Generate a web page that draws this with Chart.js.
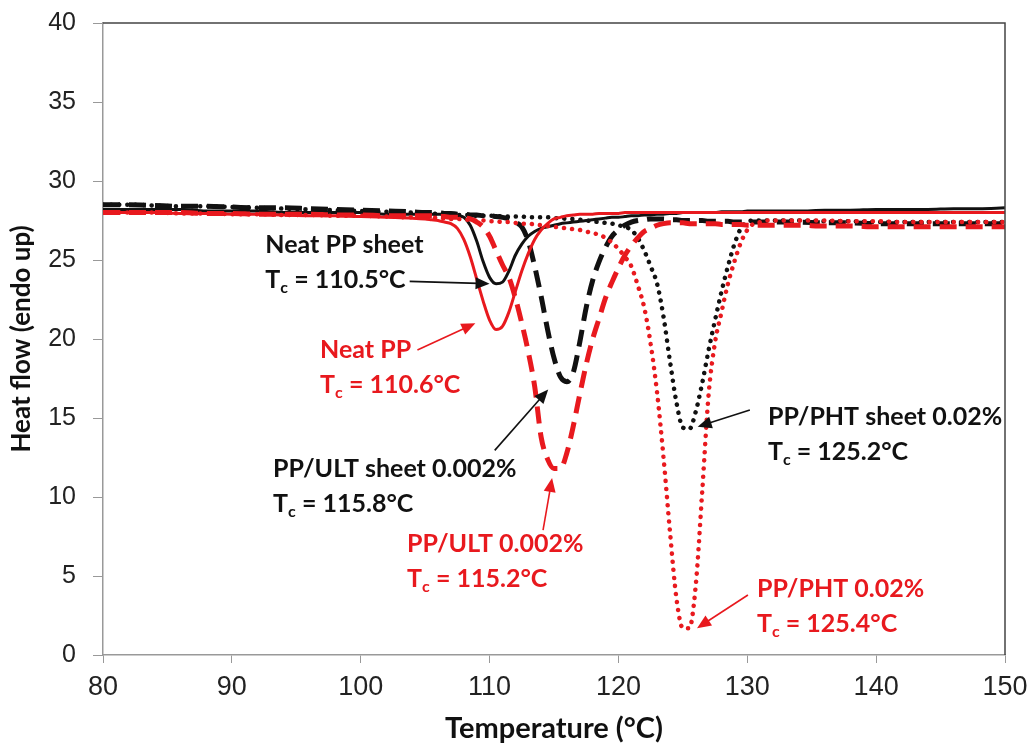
<!DOCTYPE html>
<html>
<head>
<meta charset="utf-8">
<script src="https://cdn.jsdelivr.net/npm/chart.js@4.4.0/dist/chart.umd.min.js"></script>
<style>
  html, body { margin: 0; padding: 0; background: #fff; }
  #wrap { width: 1030px; height: 747px; }
</style>
</head>
<body>
<div id="wrap"><canvas id="chart1"></canvas></div>
<script>
// temperature (°C) shared by all curves
var temps = [80,82,84,86,88,90,92,94,96,98,100,102,104,
  105,105.5,106,106.5,107,107.5,108,108.5,109,109.5,
  110,110.5,111,111.5,112,112.5,113,113.5,114,114.5,
  115,115.5,116,116.5,117,117.5,118,118.5,119,119.5,
  120,120.5,121,121.5,122,122.5,123,123.5,124,124.5,
  125,125.5,126,126.5,127,127.5,128,128.5,129,129.5,
  130,130.5,131,131.5,132,
  134,136,138,140,142,144,146,148,150];

// heat flow (endo up)
var neatPPSheet = [28.2,28.2,28.2,28.2,28.1,28.1,28.1,28.0,28.0,28.0,28.0,27.9,27.9,
  27.9,27.9,27.9,27.9,27.9,27.8,27.7,27.2,26.2,24.9,
  23.9,23.5,23.6,24.3,25.3,26.0,26.5,26.8,27.0,27.1,
  27.2,27.3,27.35,27.4,27.45,27.5,27.55,27.6,27.65,27.7,
  27.7,27.75,27.8,27.8,27.85,27.85,27.9,27.9,27.95,27.95,
  28.0,28.0,28.0,28.0,28.0,28.0,28.05,28.05,28.05,28.05,
  28.1,28.1,28.1,28.1,28.1,
  28.1,28.15,28.15,28.2,28.2,28.2,28.25,28.25,28.3];

var neatPP = [28.0,28.0,28.0,27.95,27.95,27.9,27.9,27.85,27.8,27.8,27.75,27.7,27.65,
  27.6,27.55,27.5,27.4,27.3,27.0,26.3,25.2,23.8,22.4,
  21.2,20.6,20.8,21.7,23.0,24.3,25.4,26.3,26.9,27.3,
  27.6,27.7,27.8,27.85,27.9,27.9,27.9,27.95,27.95,27.95,
  27.95,28.0,28.0,28.0,28.0,28.0,28.0,28.0,28.0,28.0,
  28.0,28.0,28.0,28.0,28.0,28.0,28.0,28.0,28.0,28.0,
  28.0,28.0,28.0,28.0,28.0,
  28.0,28.0,28.0,28.0,28.0,28.0,28.0,28.0,28.0];

var ultSheet = [28.5,28.5,28.45,28.4,28.4,28.35,28.3,28.3,28.25,28.2,28.15,28.1,28.05,
  28.0,28.0,28.0,27.95,27.95,27.9,27.9,27.85,27.85,27.8,
  27.8,27.75,27.7,27.6,27.4,27.1,26.2,24.6,22.7,20.6,
  18.8,17.6,17.3,17.9,19.8,22.0,23.7,24.9,25.8,26.5,
  26.9,27.2,27.4,27.5,27.55,27.6,27.6,27.6,27.55,27.55,
  27.5,27.5,27.5,27.5,27.45,27.45,27.45,27.45,27.4,27.4,
  27.4,27.4,27.4,27.4,27.4,
  27.4,27.35,27.35,27.3,27.3,27.3,27.3,27.3,27.3];

var ult = [28.0,28.0,28.0,28.0,27.95,27.95,27.9,27.9,27.9,27.85,27.85,27.8,27.8,
  27.8,27.8,27.75,27.75,27.7,27.7,27.65,27.6,27.4,27.1,
  26.5,25.6,24.7,23.9,22.6,21.0,19.2,17.0,13.8,12.4,
  11.8,11.8,12.8,14.5,16.5,18.4,20.0,21.3,22.6,23.6,
  24.5,25.3,25.9,26.4,26.8,27.0,27.2,27.3,27.35,27.35,
  27.35,27.3,27.3,27.3,27.3,27.3,27.25,27.25,27.25,27.25,
  27.2,27.2,27.2,27.2,27.2,
  27.2,27.15,27.15,27.1,27.1,27.1,27.1,27.1,27.1];

var phtSheet = [28.5,28.5,28.45,28.4,28.4,28.35,28.3,28.25,28.2,28.15,28.1,28.05,28.0,
  27.95,27.95,27.9,27.9,27.9,27.85,27.85,27.85,27.8,27.8,
  27.8,27.8,27.75,27.75,27.75,27.75,27.7,27.7,27.7,27.7,
  27.65,27.65,27.6,27.6,27.55,27.5,27.45,27.4,27.35,27.3,
  27.2,27.1,26.9,26.4,25.6,24.6,23.5,21.4,18.6,16.0,
  14.4,14.3,15.4,17.2,19.3,21.2,23.0,24.6,26.0,27.0,
  27.4,27.5,27.5,27.5,27.5,
  27.5,27.45,27.45,27.4,27.4,27.4,27.4,27.4,27.4];

var pht = [28.0,28.0,28.0,27.95,27.95,27.9,27.9,27.85,27.85,27.8,27.8,27.75,27.7,
  27.7,27.7,27.65,27.65,27.6,27.6,27.55,27.55,27.5,27.5,
  27.45,27.45,27.4,27.4,27.35,27.3,27.3,27.25,27.2,27.15,
  27.1,27.05,27.0,26.95,26.9,26.8,26.7,26.6,26.4,26.1,
  25.7,25.2,24.6,23.4,22.0,19.7,16.6,12.5,7.8,3.6,
  1.7,1.7,4.4,10.3,16.5,19.8,21.7,23.5,24.9,26.1,
  26.9,27.3,27.4,27.5,27.5,
  27.5,27.5,27.45,27.45,27.4,27.4,27.4,27.4,27.4];

var xTicks = [80,90,100,110,120,130,140,150];
var yTicks = [0,5,10,15,20,25,30,35,40];

function pts(vals) {
  return temps.map(function (t, i) { return { x: t, y: vals[i] }; });
}

var RED = '#e8191e';
var BLACK = '#111111';

// peak labels: where the text starts and where the arrow goes (data units)
var notes = [
  { name: 'Neat PP sheet', tc: '110.5', color: BLACK, at: [92.6, 25.45], from: [103.8, 23.65], to: [110.0, 23.5] },
  { name: 'Neat PP', tc: '110.6', color: RED, at: [96.85, 18.8], from: [104.4, 19.3], to: [108.9, 21.0] },
  { name: 'PP/ULT sheet 0.002%', tc: '115.8', color: BLACK, at: [93.2, 11.25], from: [110.4, 12.95], to: [114.55, 16.8] },
  { name: 'PP/ULT 0.002%', tc: '115.2', color: RED, at: [103.6, 6.5], from: [114.15, 7.9], to: [114.85, 11.2] },
  { name: 'PP/PHT sheet 0.02%', tc: '125.2', color: BLACK, at: [131.6, 14.55], from: [130.2, 15.5], to: [126.15, 14.45] },
  { name: 'PP/PHT 0.02%', tc: '125.4', color: RED, at: [130.75, 3.65], from: [130.05, 3.8], to: [126.1, 1.7] }
];

var frameAndNotes = {
  id: 'frameAndNotes',
  afterDraw: function (chart) {
    var ctx = chart.ctx, a = chart.chartArea;
    var xs = chart.scales.x, ys = chart.scales.y;
    ctx.save();
    // plot frame top/right
    ctx.strokeStyle = '#444';
    ctx.lineWidth = 1.5;
    ctx.beginPath();
    ctx.moveTo(a.left, a.top);
    ctx.lineTo(a.right, a.top);
    ctx.lineTo(a.right, a.bottom);
    ctx.stroke();

    notes.forEach(function (n) {
      var x = xs.getPixelForValue(n.at[0]);
      var y = ys.getPixelForValue(n.at[1]);
      ctx.fillStyle = n.color;
      ctx.textAlign = 'left';
      ctx.textBaseline = 'alphabetic';
      ctx.font = 'bold 25px Lato';
      ctx.fillText(n.name, x, y);
      var y2 = y + 35;
      ctx.fillText('T', x, y2);
      var w1 = ctx.measureText('T').width;
      ctx.font = 'bold 16px Lato';
      ctx.fillText('c', x + w1, y2 + 5);
      var w2 = ctx.measureText('c').width;
      ctx.font = 'bold 25px Lato';
      ctx.fillText(' = ' + n.tc + '\u00B0C', x + w1 + w2, y2);

      // arrow
      var x0 = xs.getPixelForValue(n.from[0]), y0 = ys.getPixelForValue(n.from[1]);
      var x1 = xs.getPixelForValue(n.to[0]), y1 = ys.getPixelForValue(n.to[1]);
      var ang = Math.atan2(y1 - y0, x1 - x0);
      var L = 14, W = 6;
      ctx.strokeStyle = n.color;
      ctx.lineWidth = 1.6;
      ctx.beginPath();
      ctx.moveTo(x0, y0);
      ctx.lineTo(x1 - Math.cos(ang) * L * 0.8, y1 - Math.sin(ang) * L * 0.8);
      ctx.stroke();
      ctx.beginPath();
      ctx.moveTo(x1, y1);
      ctx.lineTo(x1 - Math.cos(ang) * L - Math.sin(ang) * W, y1 - Math.sin(ang) * L + Math.cos(ang) * W);
      ctx.lineTo(x1 - Math.cos(ang) * L + Math.sin(ang) * W, y1 - Math.sin(ang) * L - Math.cos(ang) * W);
      ctx.closePath();
      ctx.fill();
    });
    ctx.restore();
  }
};

var ctx1 = document.getElementById('chart1').getContext('2d');
var chart1 = new Chart(ctx1, {
  type: 'line',
  data: {
    datasets: [
      { label: 'Neat PP sheet', data: pts(neatPPSheet), borderColor: BLACK, borderWidth: 3, order: 2 },
      { label: 'PP/ULT sheet 0.002%', data: pts(ultSheet), borderColor: BLACK, borderWidth: 5, borderDash: [17, 9], order: 2 },
      { label: 'PP/PHT sheet 0.02%', data: pts(phtSheet), borderColor: BLACK, borderWidth: 4.5, borderDash: [0.1, 8], borderCapStyle: 'round', order: 2 },
      { label: 'Neat PP', data: pts(neatPP), borderColor: RED, borderWidth: 3, order: 1 },
      { label: 'PP/ULT 0.002%', data: pts(ult), borderColor: RED, borderWidth: 5, borderDash: [17, 9], order: 1 },
      { label: 'PP/PHT 0.02%', data: pts(pht), borderColor: RED, borderWidth: 4.5, borderDash: [0.1, 8], borderCapStyle: 'round', order: 1 }
    ]
  },
  options: {
    responsive: true,
    maintainAspectRatio: false,
    animation: false,
    layout: { padding: { top: 23, right: 25, left: 0, bottom: 0 } },
    elements: {
      point: { radius: 0 },
      line: { fill: false, cubicInterpolationMode: 'monotone' }
    },
    plugins: {
      legend: { display: false },
      tooltip: { enabled: false }
    },
    scales: {
      x: {
        type: 'linear',
        min: 80,
        max: 150,
        afterBuildTicks: function (s) { s.ticks = xTicks.map(function (v) { return { value: v }; }); },
        afterFit: function (s) { s.height = 92; s.paddingLeft = 0; s.paddingRight = 0; },
        grid: { drawOnChartArea: false, drawTicks: true, tickLength: 8, color: '#999' },
        border: { color: '#999', width: 1.5 },
        ticks: {
          padding: 8,
          color: '#222',
          font: { family: "'Liberation Sans', sans-serif", size: 27 }
        },
        title: {
          display: true,
          text: 'Temperature (\u00B0C)',
          color: '#111',
          padding: { top: 0, bottom: 1 },
          font: { family: 'Lato', size: 29, weight: 'bold' }
        }
      },
      y: {
        min: 0,
        max: 40,
        afterBuildTicks: function (s) { s.ticks = yTicks.map(function (v) { return { value: v }; }); },
        afterFit: function (s) { s.width = 103; s.paddingTop = 0; s.paddingBottom = 0; },
        grid: { drawOnChartArea: false, drawTicks: true, tickLength: 10, color: '#999' },
        border: { color: '#999', width: 1.5 },
        ticks: {
          padding: 17,
          color: '#222',
          font: { family: "'Liberation Sans', sans-serif", size: 25 }
        },
        title: {
          display: true,
          text: 'Heat flow (endo up)',
          color: '#111',
          padding: { top: 6, bottom: 0 },
          font: { family: 'Lato', size: 26, weight: 'bold' }
        }
      }
    }
  },
  plugins: [frameAndNotes]
});
</script>
</body>
</html>
